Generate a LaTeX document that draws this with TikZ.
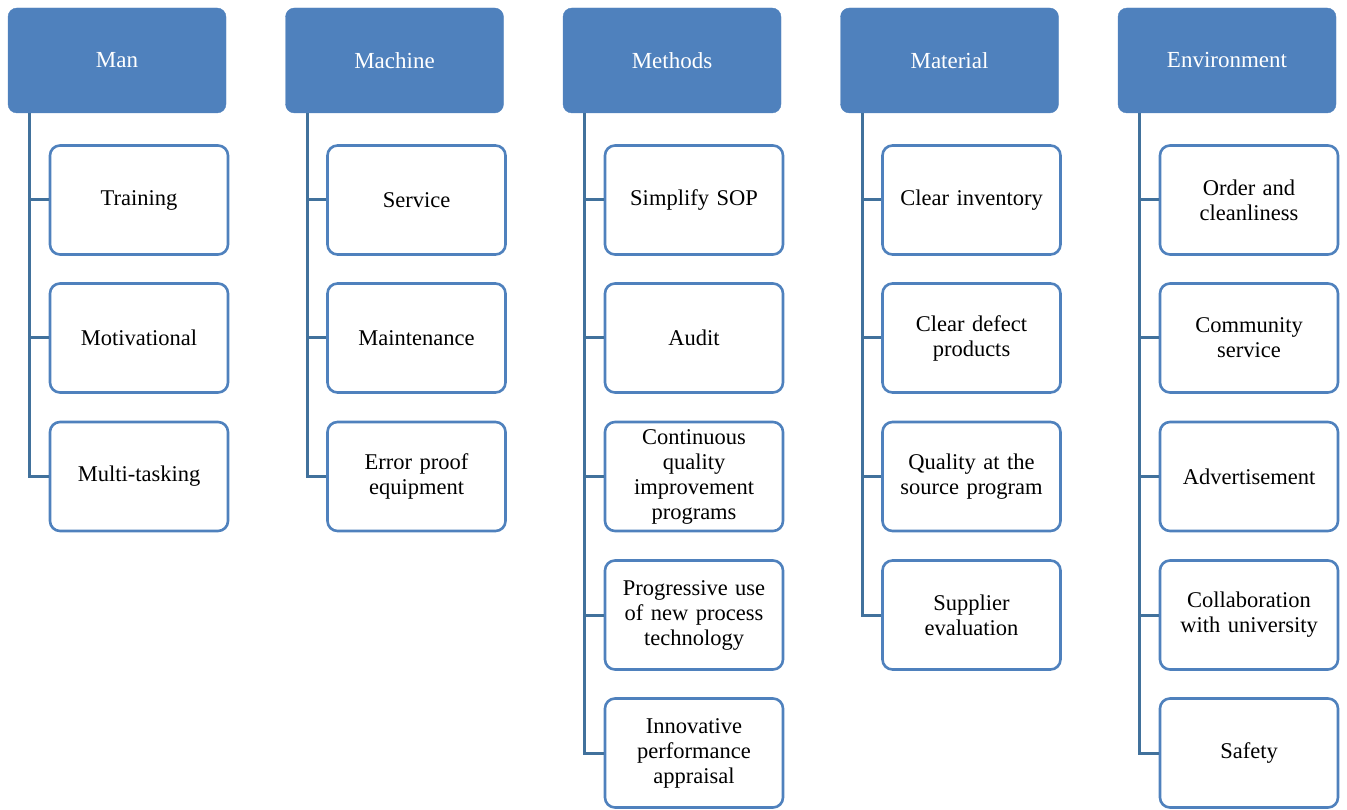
\documentclass[tikz,border=0pt]{standalone}
\usepackage{fontspec}
\setmainfont{Liberation Serif}
\definecolor{hdr}{HTML}{4F81BD}
\definecolor{lnk}{HTML}{41719C}
\tikzset{
  hdrbox/.style={draw=hdr, fill=hdr, rounded corners=9pt, minimum width=218pt, minimum height=105pt,
    text=white, font=\fontsize{23}{26}\selectfont, align=center, inner sep=0pt},
  childbox/.style={draw=hdr, line width=2.6pt, fill=white, rounded corners=10pt, minimum width=178pt, minimum height=109pt,
    font=\fontsize{22.5}{25}\selectfont, align=center, inner sep=0pt, text width=174pt},
  link/.style={draw=lnk, line width=3pt}
}
\begin{document}
\begin{tikzpicture}[x=1pt,y=-1pt]
\useasboundingbox (0,0) rectangle (1347,810);
% column 1: Man
\node[hdrbox] (h1) at (117,60.5) {Man};
\node[childbox] (c11) at (139,200) {Training};
\node[childbox] (c12) at (139,338) {Motivational};
\node[childbox] (c13) at (139,476.5) {Multi-tasking};
% column 2: Machine
\node[hdrbox] (h2) at (394.5,60.5) {Machine};
\node[childbox] (c21) at (416.5,200) {Service};
\node[childbox] (c22) at (416.5,338) {Maintenance};
\node[childbox] (c23) at (416.5,476.5) {Error proof\\equipment};
% column 3: Methods
\node[hdrbox] (h3) at (672,60.5) {Methods};
\node[childbox] (c31) at (694,200) {Simplify SOP};
\node[childbox] (c32) at (694,338) {Audit};
\node[childbox] (c33) at (694,476.5) {Continuous\\quality\\improvement\\programs};
\node[childbox] (c34) at (694,615) {Progressive use\\of new process\\technology};
\node[childbox] (c35) at (694,753) {Innovative\\performance\\appraisal};
% column 4: Material
\node[hdrbox] (h4) at (949.5,60.5) {Material};
\node[childbox] (c41) at (971.5,200) {Clear inventory};
\node[childbox] (c42) at (971.5,338) {Clear defect\\products};
\node[childbox] (c43) at (971.5,476.5) {Quality at the\\source program};
\node[childbox] (c44) at (971.5,615) {Supplier\\evaluation};
% column 5: Environment
\node[hdrbox] (h5) at (1227,60.5) {Environment};
\node[childbox] (c51) at (1249,200) {Order and\\cleanliness};
\node[childbox] (c52) at (1249,338) {Community\\service};
\node[childbox] (c53) at (1249,476.5) {Advertisement};
\node[childbox] (c54) at (1249,615) {Collaboration\\with university};
\node[childbox] (c55) at (1249,753) {Safety};
% connectors
\foreach \col/\n in {1/3,2/3,3/5,4/4,5/5}{
  \foreach \r in {1,...,\n}{
    \draw[link] ([xshift=22pt]h\col.south west) |- (c\col\r.west);
  }
}
\end{tikzpicture}
\end{document}
